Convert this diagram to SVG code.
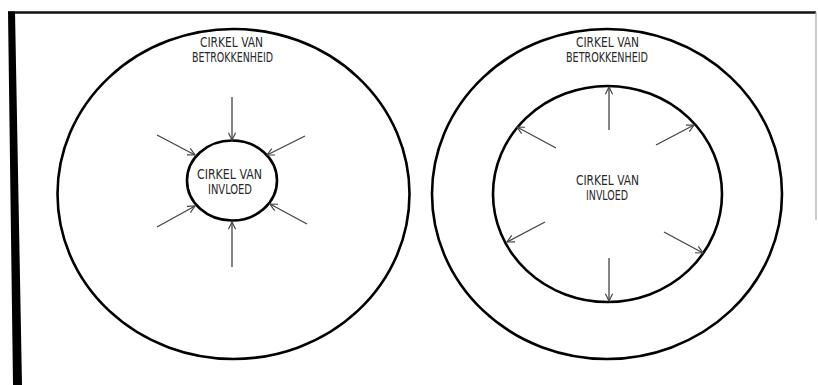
<svg xmlns="http://www.w3.org/2000/svg" width="818" height="385" viewBox="0 0 818 385">
<defs>
<style>
.circ{fill:none;stroke:#000;stroke-width:2.6}
.arr{fill:none;stroke:#444;stroke-width:1.3;marker-end:url(#ah)}
.t{font-family:"Liberation Sans Narrow","DejaVu Sans Condensed",sans-serif;font-size:13.5px;fill:#2a2a2a;text-anchor:middle}
</style>
<marker id="ah" viewBox="0 0 10 10" refX="9" refY="5" markerWidth="9" markerHeight="9" markerUnits="userSpaceOnUse" orient="auto">
<path d="M1,1 L9,5 L1,9" fill="none" stroke="#444" stroke-width="1.3"/>
</marker>
</defs>
<rect width="818" height="385" fill="#fff"/>
<g id="frame">
<line x1="8" y1="12.5" x2="816" y2="12.5" stroke="#111" stroke-width="2.5"/>
<polygon points="8,11.5 15,11.5 22,385 13,385" fill="#000"/>
<line x1="816" y1="12" x2="816" y2="220" stroke="#aaa" stroke-width="1.2"/>
</g>
<g id="left-outer">
<ellipse class="circ" cx="233.5" cy="194" rx="176" ry="165"/>
<text class="t" x="231.5" y="46.5" textLength="63" lengthAdjust="spacingAndGlyphs">CIRKEL VAN</text>
<text class="t" x="232.5" y="62" textLength="81" lengthAdjust="spacingAndGlyphs">BETROKKENHEID</text>
</g>
<g id="left-inner">
<ellipse class="circ" cx="232" cy="180.5" rx="45" ry="40"/>
<text class="t" x="229.5" y="178.5" textLength="65" lengthAdjust="spacingAndGlyphs">CIRKEL VAN</text>
<text class="t" x="230" y="194" textLength="44" lengthAdjust="spacingAndGlyphs">INVLOED</text>
</g>
<g id="right-outer">
<ellipse class="circ" cx="607" cy="194" rx="175" ry="165"/>
<text class="t" x="607.5" y="46.5" textLength="63" lengthAdjust="spacingAndGlyphs">CIRKEL VAN</text>
<text class="t" x="607" y="62" textLength="82" lengthAdjust="spacingAndGlyphs">BETROKKENHEID</text>
</g>
<g id="right-inner">
<ellipse class="circ" cx="607.5" cy="194" rx="114.5" ry="108"/>
<text class="t" x="607.5" y="184.5" textLength="63" lengthAdjust="spacingAndGlyphs">CIRKEL VAN</text>
<text class="t" x="607" y="200" textLength="42" lengthAdjust="spacingAndGlyphs">INVLOED</text>
</g>
<g id="connectors">
<line class="arr" x1="232" y1="97" x2="232" y2="140"/>
<line class="arr" x1="157" y1="135" x2="195" y2="155"/>
<line class="arr" x1="305" y1="136" x2="267" y2="155"/>
<line class="arr" x1="157" y1="227" x2="195" y2="206"/>
<line class="arr" x1="307" y1="224" x2="270" y2="204"/>
<line class="arr" x1="232" y1="267" x2="232" y2="222"/>
<line class="arr" x1="609" y1="130" x2="609" y2="87"/>
<line class="arr" x1="556" y1="148" x2="517" y2="127"/>
<line class="arr" x1="656" y1="145" x2="694" y2="125"/>
<line class="arr" x1="545" y1="222" x2="507" y2="242"/>
<line class="arr" x1="664" y1="232" x2="703" y2="253"/>
<line class="arr" x1="609" y1="258" x2="609" y2="301"/>
</g>
</svg>
